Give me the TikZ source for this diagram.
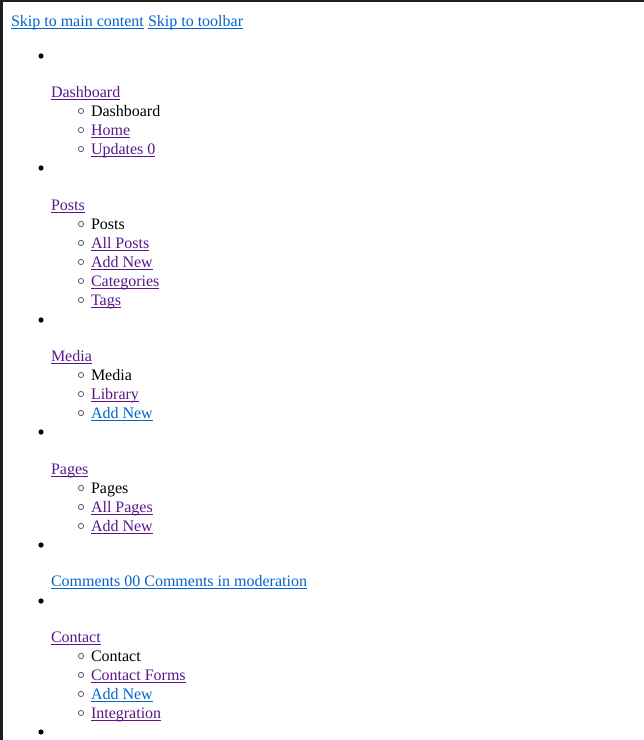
\documentclass[tikz,border=0pt]{standalone}
\usepackage{fontspec}
\setmainfont{Liberation Serif}
\definecolor{unv}{RGB}{0,102,204}
\definecolor{vis}{RGB}{88,24,140}
\definecolor{frame}{RGB}{30,30,30}
\definecolor{circ}{RGB}{90,90,110}
\tikzset{
  txt/.style={anchor=base west, inner sep=0pt, outer sep=0pt, font=\fontsize{16bp}{19bp}\selectfont},
  plain/.style={txt, text=black},
}
\newcommand\lk[5]{%
  \node[txt, text=#4] (#1) at (#2,#3) {#5};
  \draw[line width=1bp, draw=#4] ([yshift=-2bp]#1.base west) -- ([yshift=-2bp]#1.base east);}
\newcommand\bul[1]{\fill[black] (41,#1) circle (2.6bp);}
\newcommand\sub[1]{\draw[circ, line width=0.8bp] (81,#1) circle (2.6bp);}
\begin{document}
\begin{tikzpicture}[x=1bp,y=-1bp]
\useasboundingbox (0,0) rectangle (644,740);
\fill[white] (0,0) rectangle (644,740);
\fill[frame] (0,0) rectangle (644,2.5);
\fill[frame] (0,0) rectangle (2.5,740);
\begin{scope}[shift={(0,1)}]
% skip links
\lk{skipmain}{11}{26}{unv}{Skip to main content}
\lk{skiptool}{148}{26}{unv}{Skip to toolbar}
% Dashboard
\bul{55}
\lk{dash}{51}{96}{vis}{Dashboard}
\sub{110}\node[plain] (dashh) at (91,115) {Dashboard};
\sub{129}\lk{home}{91}{134}{vis}{Home}
\sub{148}\lk{upd}{91}{153}{vis}{Updates 0}
% Posts
\bul{167}
\lk{posts}{51}{209}{vis}{Posts}
\sub{223}\node[plain] (postsh) at (91,228) {Posts};
\sub{242}\lk{allposts}{91}{247}{vis}{All Posts}
\sub{261}\lk{addpost}{91}{266}{vis}{Add New}
\sub{280}\lk{cats}{91}{285}{vis}{Categories}
\sub{299}\lk{tags}{91}{304}{vis}{Tags}
% Media
\bul{319}
\lk{media}{51}{360}{vis}{Media}
\sub{374}\node[plain] (mediah) at (91,379) {Media};
\sub{393}\lk{lib}{91}{398}{vis}{Library}
\sub{412}\lk{addmedia}{91}{417}{unv}{Add New}
% Pages
\bul{431}
\lk{pages}{51}{473}{vis}{Pages}
\sub{487}\node[plain] (pagesh) at (91,492) {Pages};
\sub{506}\lk{allpages}{91}{511}{vis}{All Pages}
\sub{525}\lk{addpage}{91}{530}{vis}{Add New}
% Comments
\bul{544}
\lk{comments}{51}{585}{unv}{Comments 00 Comments in moderation}
% Contact
\bul{600}
\lk{contact}{51}{641}{vis}{Contact}
\sub{655}\node[plain] (contacth) at (91,660) {Contact};
\sub{674}\lk{forms}{91}{679}{vis}{Contact Forms}
\sub{693}\lk{addcontact}{91}{698}{unv}{Add New}
\sub{712}\lk{integ}{91}{717}{vis}{Integration}
\bul{731}
\end{scope}
\end{tikzpicture}
\end{document}
